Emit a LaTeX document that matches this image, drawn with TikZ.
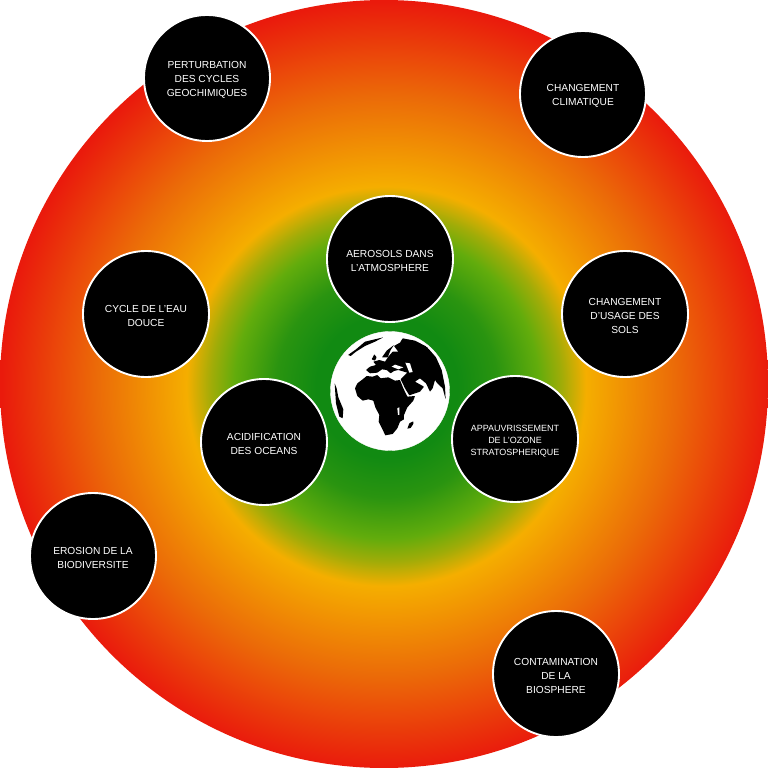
\documentclass[tikz,border=0pt]{standalone}
\usepackage{fontspec}
\setmainfont{Liberation Sans}
\definecolor{gcore}{HTML}{118A12}
\definecolor{gmid}{HTML}{2A9410}
\definecolor{glime}{HTML}{62AC0C}
\definecolor{golive}{HTML}{A0AC08}
\definecolor{gyel}{HTML}{F5AE00}
\definecolor{gor}{HTML}{EB6A08}
\definecolor{gred}{HTML}{EA1A0C}
\pgfdeclareradialshading{planet}{\pgfpoint{0.2bp}{-0.2bp}}{
 color(0bp)=(gcore);
 color(4.6bp)=(gcore);
 color(7.2bp)=(gmid);
 color(9.9bp)=(glime);
 color(11.4bp)=(golive);
 color(13bp)=(gyel);
 color(18.9bp)=(gor);
 color(25bp)=(gred);
 color(50bp)=(gred)}
\newcommand{\lowered}{\rule{0pt}{11.5pt}}
\tikzset{
 issue/.style={circle,fill=black,draw=white,line width=1.9pt,minimum size=126pt,inner sep=0pt,
  text=white,align=center,font=\fontsize{10.2}{14}\selectfont},
 land/.style={fill=black,draw=none,rounded corners=0.4pt},
 gap/.style={fill=white,draw=none}
}
\begin{document}
\begin{tikzpicture}[x=1pt,y=-1pt]
\useasboundingbox (0,0) rectangle (768,768);
\fill[white] (0,0) rectangle (768,768);
\shade[shading=planet] (384,384) circle[radius=384];
\node[circle,fill=white,draw=white,minimum size=119pt,inner sep=0pt] (earth) at (390,391) {};
\begin{scope}
\clip (390,391) circle[radius=57.5];
\begin{scope}[shift={(320,320)},x=0.3333pt,y=-0.3333pt]
% Africa
\path[land] (105,205) -- (112,190) -- (128,178) -- (140,168) -- (158,170) -- (172,165) -- (182,175) -- (205,172) -- (225,182) -- (240,180) -- (250,205) -- (262,230) -- (285,228) -- (280,242) -- (262,262) -- (252,285) -- (252,298) -- (240,305) -- (232,325) -- (218,342) -- (196,346) -- (186,325) -- (176,305) -- (178,285) -- (166,262) -- (160,242) -- (145,238) -- (128,242) -- (112,228) -- cycle;
% Eurasia
\path[land] (248,55) -- (285,62) -- (320,80) -- (348,112) -- (365,150) -- (375,200) -- (377,238) -- (368,205) -- (352,190) -- (345,180) -- (338,205) -- (330,215) -- (318,190) -- (300,175) -- (285,185) -- (312,200) -- (300,215) -- (268,226) -- (255,205) -- (242,178) -- (250,170) -- (262,158) -- (235,150) -- (222,153) -- (212,160) -- (200,150) -- (186,148) -- (172,158) -- (150,160) -- (138,150) -- (150,140) -- (168,135) -- (160,125) -- (178,120) -- (195,125) -- (205,110) -- (218,95) -- (235,95) -- (222,78) -- (240,68) -- cycle;
% Scandinavia, Britain, Greenland
\path[land] (186,112) -- (200,92) -- (222,75) -- (212,90) -- (203,112) -- cycle;
\path[land] (155,118) -- (163,103) -- (170,112) -- (165,122) -- cycle;
\path[land] (84,105) -- (108,88) -- (135,65) -- (190,52) -- (165,65) -- (135,78) -- (108,95) -- (92,108) -- cycle;
% America edge
\path[land] (44,190) -- (50,205) -- (55,232) -- (70,268) -- (68,295) -- (58,290) -- (48,250) -- cycle;
% Madagascar
\path[land] (262,326) -- (268,310) -- (280,304) -- (280,312) -- (272,324) -- cycle;
% seas
\path[gap] (256,128) -- (270,130) -- (278,156) -- (268,158) -- cycle;
\path[gap] (215,140) -- (225,134) -- (250,142) -- (235,148) -- cycle;
\path[gap] (232,265) -- (238,262) -- (238,285) -- (234,285) -- cycle;
\end{scope}
\end{scope}
\node[issue] (pert) at (207,78) {\lowered PERTURBATION\\DES CYCLES\\GEOCHIMIQUES};
\node[issue] (clim) at (583,94) {\lowered CHANGEMENT\\CLIMATIQUE};
\node[issue] (aero) at (390,259) {\lowered AEROSOLS DANS\\L’ATMOSPHERE};
\node[issue] (sols) at (625,314) {\lowered CHANGEMENT\\D’USAGE DES\\SOLS};
\node[issue] (eau) at (146,314) {\lowered CYCLE DE L’EAU\\DOUCE};
\node[issue] (acid) at (264,442) {\lowered ACIDIFICATION\\DES OCEANS};
\node[issue,font=\fontsize{9}{12}\selectfont] (ozone) at (515,439) {\lowered APPAUVRISSEMENT\\DE L’OZONE\\STRATOSPHERIQUE};
\node[issue] (bio) at (93,556) {\lowered EROSION DE LA\\BIODIVERSITE};
\node[issue] (cont) at (556,674) {\lowered CONTAMINATION\\DE LA\\BIOSPHERE};
\end{tikzpicture}
\end{document}
